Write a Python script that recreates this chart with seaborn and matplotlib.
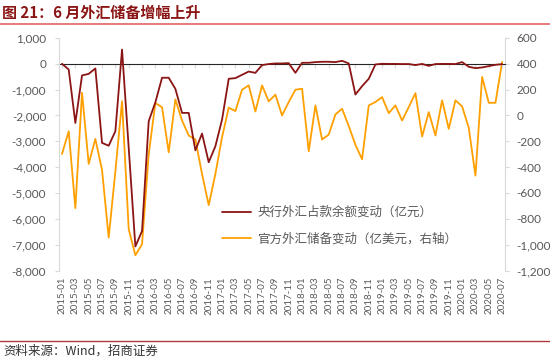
import numpy as np
import pandas as pd
import matplotlib
matplotlib.use("Agg")
import matplotlib.pyplot as plt
from matplotlib.ticker import FuncFormatter, FixedLocator
from matplotlib.lines import Line2D
import seaborn as sns

# Data (monthly, 2015-01 .. 2020-07)
months = pd.period_range("2015-01", "2020-07", freq="M").strftime("%Y-%m").tolist()

# 央行外汇占款余额变动（亿元）, left axis
pboc_fx = [
    0, -220, -2290, -450, -390, -180, -3060, -3170, -2610, 550,
    -3250, -7070, -6470, -2220, -1490, -540, -540, -970, -1900, -1900,
    -3350, -2700, -3810, -3190, -2160, -580, -555, -426, -300, -350,
    -50, -10, 13, 13, 26, -349, 39, 39, 65, 78,
    78, 65, 116, 13, -1189, -866, -581, -26, 0, -5,
    -5, -10, -10, -50, -5, -80, -10, -5, -5, -10,
    65, -116, -168, -142, -90, -39, -13,
]

# 官方外汇储备变动（亿美元，右轴）, right axis
fx_reserve = [
    -298, -122, -717, 176, -375, -181, -422, -945, -433, 109,
    -880, -1082, -997, -300, 96, 64, -285, 124, -39, -155,
    -186, -453, -694, -453, -168, 60, 34, 199, 233, 31,
    233, 109, 161, 0, 104, 199, 207, -277, 78, -186,
    -148, 8, 52, -82, -227, -339, 78, 104, 142, 18,
    78, -39, 65, 173, -163, 26, -155, 117, -104, 117,
    70, -96, -466, 298, 98, 98, 414,
]

left_ticks = list(range(-8000, 1001, 1000))
right_ticks = list(range(-1200, 601, 200))

label_pboc = "央行外汇占款余额变动（亿元）"
label_res = "官方外汇储备变动（亿美元，右轴）"

df = pd.DataFrame({"month": months, "pboc": pboc_fx, "reserve": fx_reserve})
df["pos"] = np.arange(len(df))

sns.set_style("white")
plt.rcParams["font.family"] = ["Lato", "Noto Sans CJK SC", "DejaVu Sans"]
plt.rcParams["axes.unicode_minus"] = False

c_red = "#8B1414"
c_orange = "#FFA000"
c_axis = "#D9D9D9"
c_text = "#595959"

fig = plt.figure(figsize=(5.5, 3.58), dpi=100)
ax = fig.add_axes([0.1067, 0.2444, 0.8123, 0.6496])
ax2 = ax.twinx()

sns.lineplot(data=df, x="pos", y="pboc", ax=ax, color=c_red, linewidth=1.3)
sns.lineplot(data=df, x="pos", y="reserve", ax=ax2, color=c_orange, linewidth=1.3)
ax2.set_zorder(ax.get_zorder() - 1)
ax.patch.set_visible(False)

ax.set_xlim(-0.5, len(df) - 0.5)
ax.set_ylim(-8000, 1000)
ax2.set_ylim(-1200, 600)
ax.set_yticks(left_ticks)
ax2.set_yticks(right_ticks)
fmt = FuncFormatter(lambda v, p: f"{v:,.0f}")
ax.yaxis.set_major_formatter(fmt)
ax2.yaxis.set_major_formatter(fmt)

ax.set_xticks(df["pos"][::2])
ax.set_xticklabels(df["month"][::2], rotation=90)
ax.tick_params(axis="x", length=0, pad=4.5, labelsize=7, labelcolor=c_text)
ax.tick_params(axis="y", length=3, width=0.8, color=c_axis, pad=6,
               labelsize=8.5, labelcolor=c_text)
ax2.tick_params(axis="y", length=3, width=0.8, color=c_axis, pad=5,
                labelsize=8.5, labelcolor=c_text)
ax.set_xlabel("")
ax.set_ylabel("")
ax2.set_ylabel("")

for a in (ax, ax2):
    for side in ("top", "bottom"):
        a.spines[side].set_visible(False)
    a.spines["left"].set_color(c_axis)
    a.spines["right"].set_color(c_axis)
ax.spines["right"].set_visible(False)
ax2.spines["left"].set_visible(False)

# category axis crossing at zero, ticks pointing up
zero_pos = (0 - (-8000)) / 9000
sec = ax.secondary_xaxis(zero_pos)
sec.xaxis.set_major_locator(FixedLocator(df["pos"][::2].tolist()))
sec.tick_params(axis="x", direction="in", length=3, width=0.8, color=c_axis,
                labelbottom=False, labeltop=False)
sec.spines["bottom"].set_color(c_axis)
sec.spines["bottom"].set_linewidth(0.8)

handles = [Line2D([], [], color=c_red, lw=1.3), Line2D([], [], color=c_orange, lw=1.3)]
leg = fig.legend(handles, [label_pboc, label_res], loc="upper left",
                 bbox_to_anchor=(0.4036, 0.4246), frameon=False, fontsize=9,
                 handlelength=2.3, handletextpad=0.5, labelspacing=1.1,
                 borderpad=0, borderaxespad=0)
for t in leg.get_texts():
    t.set_color(c_text)
    t.set_family(["Noto Sans CJK SC", "DejaVu Sans"])

# header and footer
fig.text(0.004, 0.965, "图 21：6 月外汇储备增幅上升", fontsize=10.8, fontweight="bold",
         color=c_red, va="center", ha="left", family=["Noto Sans CJK SC", "DejaVu Sans"])
fig.add_artist(Line2D([0, 1], [1 - 24 / 358, 1 - 24 / 358], color="#E06666",
                      lw=1.2, transform=fig.transFigure))
fig.add_artist(Line2D([0, 1], [1 - 341 / 358, 1 - 341 / 358], color="#B03A3A",
                      lw=1.0, transform=fig.transFigure))
fig.text(0.006, 1 - 351 / 358, "资料来源：Wind，招商证券", fontsize=9, color="#333333",
         va="center", ha="left", family=["Noto Sans CJK SC", "DejaVu Sans"])

fig.savefig("out.png", dpi=100)
